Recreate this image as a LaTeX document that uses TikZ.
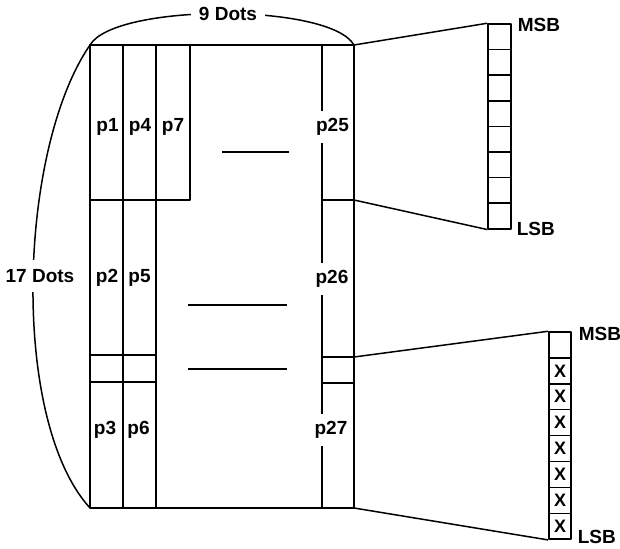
\documentclass[tikz,border=0pt]{standalone}
\usepackage{fontspec}
\setmainfont{Liberation Sans}
\begin{document}
\begin{tikzpicture}[x=1pt,y=-1pt,line width=1.5pt,line join=round,
  lab/.style={font=\bfseries\fontsize{19}{19}\selectfont,inner sep=0pt},
  gaplab/.style={lab,fill=white,inner xsep=1pt,inner ysep=7.5pt},
  cellA/.style={draw,minimum width=23pt,minimum height=25.6pt,inner sep=0pt},
  cellB/.style={draw,minimum width=22pt,minimum height=25.9pt,inner sep=0pt,font=\bfseries\fontsize{18}{18}\selectfont},
  dashline/.style={line width=1.5pt}]
\useasboundingbox (0,0) rectangle (620,548);
% main frame
\coordinate (TL) at (90,45);
\coordinate (TR) at (354,45);
\coordinate (BL) at (90,508);
\coordinate (BR) at (354,508);
\coordinate (R1) at (354,200);
\coordinate (R2) at (354,357);
\draw (TL) rectangle (BR);
% left columns
\draw (123,45) -- (123,508);
\draw (156,45) -- (156,508);
\draw (190,45) -- (190,200) -- (90,200);
\draw (90,355) -- (156,355);
\draw (90,382) -- (156,382);
% right column
\draw (322,45) -- (322,508);
\draw (322,200) -- (R1);
\draw (322,357) -- (R2);
\draw (322,383) -- (354,383);
% dashes
\draw[dashline] (222,152) -- (289,152);
\draw[dashline] (188,305) -- (287,305);
\draw[dashline] (188,369) -- (287,369);
% dimension curves
\draw (TL) .. controls (18,150) and (10,420) .. (BL);
\draw (TL) .. controls (115,3) and (330,3) .. (TR);
\node[lab,fill=white,inner xsep=2pt,inner ysep=9pt] (d17) at (40,276) {17 Dots};
\node[lab,fill=white,inner xsep=8pt,inner ysep=4pt] (d9) at (228,14) {9 Dots};
% cell labels
\node[lab] (p1) at (107.5,127) {p1};
\node[lab] (p4) at (140,127) {p4};
\node[lab] (p7) at (173,127) {p7};
\node[gaplab] (p25) at (332.5,127) {p25};
\node[lab] (p2) at (107,278) {p2};
\node[lab] (p5) at (139.5,278) {p5};
\node[gaplab] (p26) at (332,279) {p26};
\node[lab] (p3) at (105,430) {p3};
\node[lab] (p6) at (138.5,430) {p6};
\node[gaplab] (p27) at (331,430) {p27};
% top register
\foreach \i in {0,...,7} \node[cellA] (a\i) at (499.5,{24+12.8+25.6*\i}) {};
\draw (TR) -- (a0.north west);
\draw (R1) -- (a7.south west);
\node[lab,anchor=west] (msbA) at (517,25) {MSB};
\node[lab,anchor=west] (lsbA) at (516,229) {LSB};
% bottom register
\node[cellB] (b0) at (560,{332+12.95}) {};
\foreach \i in {1,...,7} \node[cellB] (b\i) at (560,{332+12.95+25.9*\i}) {X};
\draw (R2) -- (b0.north west);
\draw (BR) -- (b7.south west);
\node[lab,anchor=west] (msbB) at (578,334) {MSB};
\node[lab,anchor=west] (lsbB) at (577,537) {LSB};
\end{tikzpicture}
\end{document}
